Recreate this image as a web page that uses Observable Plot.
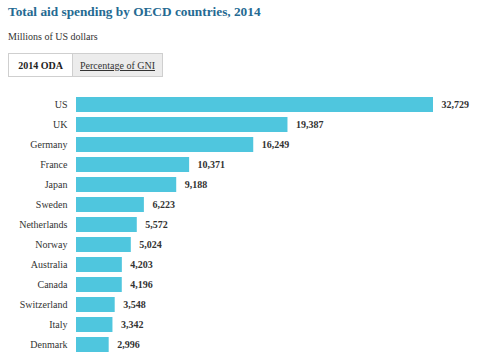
<!DOCTYPE html>
<html>
<head>
<meta charset="utf-8">
<script src="https://cdn.jsdelivr.net/npm/d3@7"></script>
<script src="https://cdn.jsdelivr.net/npm/@observablehq/plot@0.6"></script>
</head>
<body style="margin:0;background:#fff;font-family:'Liberation Serif'">
<div style="position:relative;width:500px;height:357px;overflow:hidden;font-family:'Liberation Serif'">
  <div style="position:relative;height:85px">
    <div style="position:absolute;left:8px;top:5px;font-family:'Liberation Serif';font-size:13.3px;line-height:13.3px;font-weight:bold;color:#256a92;white-space:nowrap">Total aid spending by OECD countries, 2014</div>
    <div style="position:absolute;left:8px;top:31.6px;font-family:'Liberation Serif';font-size:10px;line-height:10px;color:#333;white-space:nowrap">Millions of US dollars</div>
    <div style="position:absolute;left:8px;top:53px;height:24px;width:155px;box-sizing:border-box;border:1px solid #cfcfcf;display:flex;font-family:'Liberation Serif';font-size:10px">
      <div style="width:64px;height:100%;box-sizing:border-box;display:flex;align-items:center;justify-content:center;background:#fff;font-weight:bold;color:#222;border-right:1px solid #cfcfcf;font-family:'Liberation Serif'">2014 ODA</div>
      <div style="flex:1;height:100%;display:flex;align-items:center;justify-content:center;background:#ececec;color:#333;text-decoration:underline;font-family:'Liberation Serif'">Percentage of GNI</div>
    </div>
  </div>
  <div id="chart"></div>
</div>
<script>
const countries = ["US", "UK", "Germany", "France", "Japan", "Sweden", "Netherlands", "Norway", "Australia", "Canada", "Switzerland", "Italy", "Denmark"];
const odaValues = [32729, 19387, 16249, 10371, 9188, 6223, 5572, 5024, 4203, 4196, 3548, 3342, 2996];

const data = countries.map((c, i) => ({country: c, value: odaValues[i]}));
const fmt = d3.format(",");

const chart = Plot.plot({
  width: 500,
  height: 272,
  marginLeft: 76,
  marginRight: 67,
  marginTop: 6.35,
  marginBottom: 0.45,
  style: {fontFamily: "'Liberation Serif'", fontSize: "10px", color: "#333", background: "#fff", display: "block"},
  x: {domain: [0, 32729], axis: null},
  y: {domain: countries, paddingInner: 0.265, paddingOuter: 0.13, label: null},
  marks: [
    Plot.barX(data, {x: "value", y: "country", fill: "#4fc6de"}),
    Plot.text(data, {x: "value", y: "country", text: d => fmt(d.value), textAnchor: "start", dx: 8, fontWeight: "bold", fill: "#333", fontSize: 10}),
    Plot.axisY({tickSize: 0, tickPadding: 9, fontSize: 10, fill: "#333", label: null})
  ]
});
document.getElementById("chart").appendChild(chart);
</script>
</body>
</html>
